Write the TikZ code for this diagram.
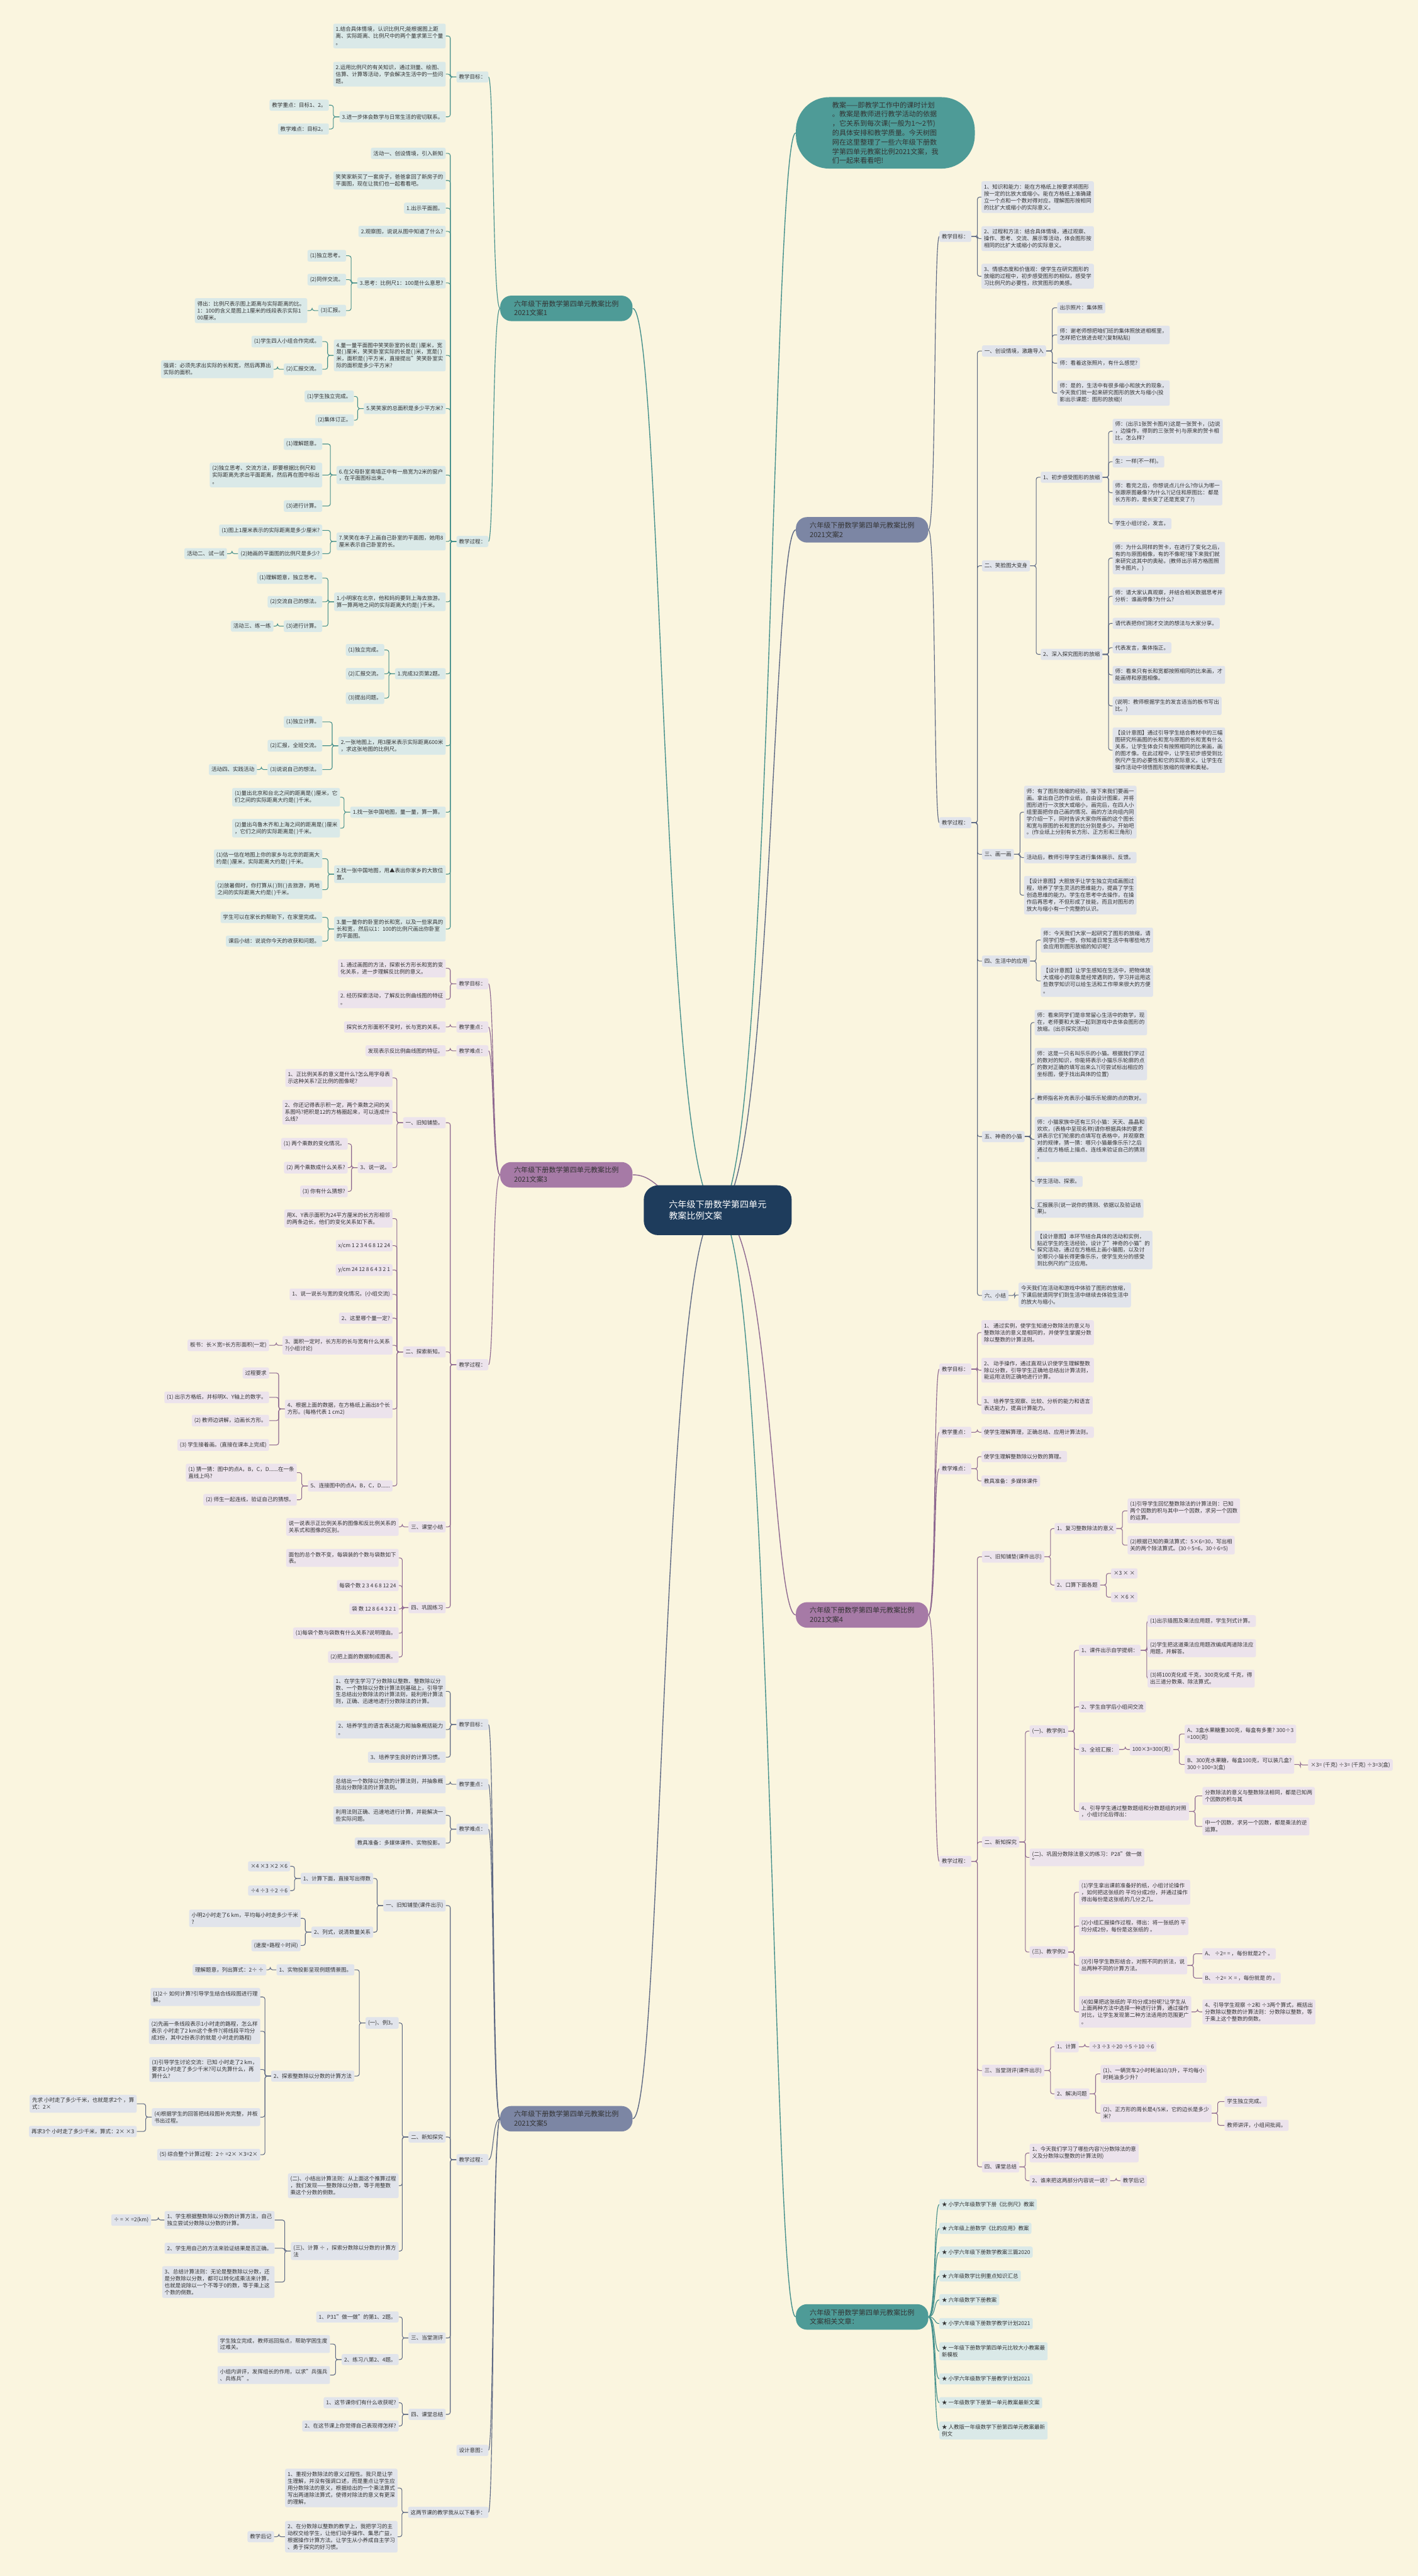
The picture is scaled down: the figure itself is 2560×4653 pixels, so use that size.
\documentclass[tikz,border=0pt]{standalone}
\usepackage{fontspec}
\setmainfont{Noto Sans CJK SC}
\definecolor{bgc}{HTML}{FAF5DF}
\definecolor{txt}{HTML}{333333}
\definecolor{tealM}{HTML}{4E9B97}
\definecolor{tealL}{HTML}{DAE9E8}
\definecolor{tealD}{HTML}{45908C}
\definecolor{purM}{HTML}{A67AA6}
\definecolor{purL}{HTML}{ECE3EC}
\definecolor{purD}{HTML}{8E6890}
\definecolor{bluM}{HTML}{7C86A4}
\definecolor{bluL}{HTML}{E1E4EB}
\definecolor{bluD}{HTML}{5E6984}
\definecolor{navy}{HTML}{1E3C5C}
\pgfdeclarelayer{bg}
\pgfsetlayers{bg,main}
\tikzset{
 base/.style={rounded corners=3bp, inner xsep=4.5bp, inner ysep=5.5bp, align=left, font=\fontsize{9.7bp}{12.4bp}\selectfont, text=txt},
 tL/.style={base, fill=tealL, anchor=east}, tR/.style={base, fill=tealL, anchor=west},
 pL/.style={base, fill=purL, anchor=east}, pR/.style={base, fill=purL, anchor=west},
 bL/.style={base, fill=bluL, anchor=east}, bR/.style={base, fill=bluL, anchor=west},
 mainS/.style={rounded corners=20bp, minimum width=239bp, minimum height=46bp, align=left, font=\fontsize{12.6bp}{16.6bp}\selectfont, text=txt, inner sep=0pt, anchor=west},
 conn/.style={draw=tealD, line width=1.2bp, rounded corners=4bp},
 mconn/.style={draw=tealD, line width=1.3bp},
 rconn/.style={line width=1.6bp}
}
\newcommand\cnL[2]{\draw[conn] (#1.west) -- ++(-11,0) |- (#2.east);}
\newcommand\cnR[2]{\draw[conn] (#1.east) -- ++(11,0) |- (#2.west);}
\newcommand\csL[2]{\foreach \cc in {#2}{\cnL{#1}{\cc}}}
\newcommand\csR[2]{\foreach \cc in {#2}{\cnR{#1}{\cc}}}
\newcommand\mcL[2]{\draw[mconn] (#1.west) .. controls +(-14,0) and +(10,0) .. (#2.east);}
\newcommand\mcR[2]{\draw[mconn] (#1.east) .. controls +(14,0) and +(-10,0) .. (#2.west);}
\begin{document}
\begin{tikzpicture}[x=1bp,y=-1bp]
\useasboundingbox (0,0) rectangle (2560,4653);
\begin{pgfonlayer}{bg}
\fill[bgc] (0,0) rectangle (2560,4653);
\end{pgfonlayer}

% ---------------- root
\node[rounded corners=26bp, fill=navy, text=white, minimum width=267bp, minimum height=90bp, align=left, font=\fontsize{16bp}{21bp}\selectfont] (root) at (1296,2186) {六年级下册数学第四单元\\教案比例文案};

% ---------------- main nodes
\node[mainS, fill=tealM] (m1) at (903,557) {六年级下册数学第四单元教案比例\\2021文案1};
\node[mainS, fill=purM] (m3) at (903,2122) {六年级下册数学第四单元教案比例\\2021文案3};
\node[mainS, fill=bluM] (m5) at (903,3827) {六年级下册数学第四单元教案比例\\2021文案5};
\node[mainS, fill=bluM] (m2) at (1437,957) {六年级下册数学第四单元教案比例\\2021文案2};
\node[mainS, fill=purM] (m4) at (1437,2917) {六年级下册数学第四单元教案比例\\2021文案4};
\node[mainS, fill=tealM] (m6) at (1437,4185) {六年级下册数学第四单元教案比例\\文案相关文章：};
\node[rounded corners=60bp, fill=tealM, minimum width=323bp, minimum height=129bp, align=left, font=\fontsize{12.6bp}{16.8bp}\selectfont, text=txt, anchor=west] (intro) at (1437,240) {教案——即教学工作中的课时计划\\。教案是教师进行教学活动的依据\\，它关系到每次课(一般为1～2节)\\的具体安排和教学质量。今天树图\\网在这里整理了一些六年级下册数\\学第四单元教案比例2021文案，我\\们一起来看看吧!};

% ================= 文案1 (teal, left)
\node[tL] (k1a) at (882,139) {教学目标：};
\node[tL] (k1b) at (882,978) {教学过程：};
\node[tL] (g1) at (805,65) {1.结合具体情境，认识比例尺;能根据图上距\\离、实际距离、比例尺中的两个量求第三个量\\。};
\node[tL] (g2) at (805,134) {2.运用比例尺的有关知识，通过测量、绘图、\\估算、计算等活动，学会解决生活中的一些问\\题。};
\node[tL] (g3) at (805,211) {3.进一步体会数学与日常生活的密切联系。};
\node[tL] (g3a) at (594,190) {教学重点：目标1、2。};
\node[tL] (g3b) at (594,233) {教学难点：目标2。};
\node[tL] (p1) at (805,277) {活动一、创设情境，引入新知};
\node[tL] (p2) at (805,326) {笑笑家新买了一套房子，爸爸拿回了新房子的\\平面图，现在让我们也一起看看吧。};
\node[tL] (p3) at (805,376) {1.出示平面图。};
\node[tL] (p4) at (805,418) {2.观察图，说说从图中知道了什么?};
\node[tL] (p5) at (805,511) {3.思考：比例尺1：100是什么意思?};
\node[tL] (p5a) at (625,462) {(1)独立思考。};
\node[tL] (p5b) at (625,505) {(2)同伴交流。};
\node[tL] (p5c) at (625,561) {(3)汇报。};
\node[tL] (p5c1) at (555,561) {得出：比例尺表示图上距离与实际距离的比。\\1：100的含义是图上1厘米的线段表示实际1\\00厘米。};
\node[tL] (p6) at (805,642) {4.量一量平面图中笑笑卧室的长是( )厘米，宽\\是( )厘米，笑笑卧室实际的长是( )米，宽是( )\\米，面积是( )平方米，直接提出"笑笑卧室实\\际的面积是多少平方米?};
\node[tL] (p6a) at (582,617) {(1)学生四人小组合作完成。};
\node[tL] (p6b) at (582,667) {(2)汇报交流。};
\node[tL] (p6b1) at (494,667) {强调：必须先求出实际的长和宽，然后再算出\\实际的面积。};
\node[tL] (p7) at (805,738) {5.笑笑家的总面积是多少平方米?};
\node[tL] (p7a) at (639,716) {(1)学生独立完成。};
\node[tL] (p7b) at (639,759) {(2)集体订正。};
\node[tL] (p8) at (805,858) {6.在父母卧室南墙正中有一扇宽为2米的窗户\\，在平面图标出来。};
\node[tL] (p8a) at (582,802) {(1)理解题意。};
\node[tL] (p8b) at (582,858) {(2)独立思考、交流方法，即要根据比例尺和\\实际距离先求出平面距离，然后再在图中标出\\。};
\node[tL] (p8c) at (582,914) {(3)进行计算。};
\node[tL] (p9) at (805,978) {7.笑笑在本子上画自己卧室的平面图，她用8\\厘米表示自己卧室的长。};
\node[tL] (p9a) at (582,958) {(1)图上1厘米表示的实际距离是多少厘米?};
\node[tL] (p9b) at (582,1000) {(2)她画的平面图的比例尺是多少?};
\node[tL] (p9b1) at (410,1000) {活动二、试一试};
\node[tL] (p10) at (805,1087) {1.小明家在北京，他和妈妈要到上海去旅游。\\算一算两地之间的实际距离大约是( )千米。};
\node[tL] (p10a) at (582,1044) {(1)理解题意，独立思考。};
\node[tL] (p10b) at (582,1087) {(2)交流自己的想法。};
\node[tL] (p10c) at (582,1131) {(3)进行计算。};
\node[tL] (p10c1) at (494,1131) {活动三、练一练};
\node[tL] (p11) at (805,1217) {1.完成32页第2题。};
\node[tL] (p11a) at (694,1174) {(1)独立完成。};
\node[tL] (p11b) at (694,1217) {(2)汇报交流。};
\node[tL] (p11c) at (694,1261) {(3)提出问题。};
\node[tL] (p12) at (805,1347) {2.一张地图上，用3厘米表示实际距离600米\\，求这张地图的比例尺。};
\node[tL] (p12a) at (582,1304) {(1)独立计算。};
\node[tL] (p12b) at (582,1347) {(2)汇报，全班交流。};
\node[tL] (p12c) at (582,1390) {(3)说说自己的想法。};
\node[tL] (p12c1) at (464,1390) {活动四、实践活动};
\node[tL] (p13) at (805,1467) {1.找一张中国地图，量一量，算一算。};
\node[tL] (p13a) at (614,1440) {(1)量出北京和台北之间的距离是( )厘米，它\\们之间的实际距离大约是( )千米。};
\node[tL] (p13b) at (614,1496) {(2)量出乌鲁木齐和上海之间的距离是( )厘米\\，它们之间的实际距离是( )千米。};
\node[tL] (p14) at (805,1579) {2.找一张中国地图，用▲表出你家乡的大致位\\置。};
\node[tL] (p14a) at (582,1551) {(1)估一估在地图上你的家乡与北京的距离大\\约是( )厘米，实际距离大约是( )千米。};
\node[tL] (p14b) at (582,1607) {(2)放暑假时，你打算从( )到( )去旅游，两地\\之间的实际距离大约是( )千米。};
\node[tL] (p15) at (805,1678) {3.量一量你的卧室的长和宽，以及一些家具的\\长和宽，然后以1：100的比例尺画出你卧室\\的平面图。};
\node[tL] (p15a) at (582,1657) {学生可以在家长的帮助下，在家里完成。};
\node[tL] (p15b) at (582,1700) {课后小结：说说你今天的收获和问题。};

% ================= 文案3 (purple, left)
\node[pL] (k3a) at (882,1777) {教学目标：};
\node[pL] (k3b) at (882,1855) {教学重点：};
\node[pL] (k3c) at (882,1898) {教学难点：};
\node[pL] (k3d) at (882,2465) {教学过程：};
\node[pL] (q1) at (805,1749) {1. 通过画图的方法，探索长方形长和宽的变\\化关系，进一步理解反比例的意义。};
\node[pL] (q2) at (805,1805) {2. 经历探索活动，了解反比例曲线图的特征\\。};
\node[pL] (q3) at (805,1855) {探究长方形面积不变时，长与宽的关系。};
\node[pL] (q4) at (805,1898) {发现表示反比例曲线图的特征。};
\node[pL] (r1) at (805,2028) {一、旧知铺垫。};
\node[pL] (r1a) at (709,1947) {1、正比例关系的意义是什么?怎么用字母表\\示这种关系?正比例的图像呢?};
\node[pL] (r1b) at (709,2009) {2、你还记得表示积一定，两个乘数之间的关\\系图吗?把积是12的方格圈起来，可以连成什\\么线?};
\node[pL] (r1c) at (709,2109) {3、说一说。};
\node[pL] (r1c1) at (628,2066) {(1) 两个乘数的变化情况。};
\node[pL] (r1c2) at (628,2109) {(2) 两个乘数成什么关系?};
\node[pL] (r1c3) at (628,2152) {(3) 你有什么猜想?};
\node[pL] (r2) at (805,2442) {二、探索新知。};
\node[pL] (r2a) at (709,2201) {用X、Y表示面积为24平方厘米的长方形相邻\\的两条边长，他们的变化关系如下表。};
\node[pL] (r2b) at (709,2250) {x/cm 1 2 3 4 6 8 12 24};
\node[pL] (r2c) at (709,2294) {y/cm 24 12 8 6 4 3 2 1};
\node[pL] (r2d) at (709,2338) {1、说一说长与宽的变化情况。(小组交流)};
\node[pL] (r2e) at (709,2381) {2、这里哪个量一定?};
\node[pL] (r2f) at (709,2430) {3、面积一定时，长方形的长与宽有什么关系\\?(小组讨论)};
\node[pL] (r2f1) at (486,2430) {板书：长×宽=长方形面积(一定)};
\node[pL] (r2g) at (709,2545) {4、根据上面的数据，在方格纸上画出8个长\\方形。(每格代表 1 cm2)};
\node[pL] (r2g1) at (486,2480) {过程要求};
\node[pL] (r2g2) at (486,2524) {(1) 出示方格纸，并标明X、Y轴上的数字。};
\node[pL] (r2g3) at (486,2566) {(2) 教师边讲解，边画长方形。};
\node[pL] (r2g4) at (486,2610) {(3) 学生接着画。(直接在课本上完成)};
\node[pL] (r2h) at (709,2684) {5、连接图中的点A，B，C，D......};
\node[pL] (r2h1) at (536,2660) {(1) 猜一猜：图中的点A，B，C，D......在一条\\直线上吗?};
\node[pL] (r2h2) at (536,2709) {(2) 师生一起连线，验证自己的猜想。};
\node[pL] (r3) at (805,2758) {三、课堂小结};
\node[pL] (r3a) at (720,2758) {说一说表示正比例关系的图像和反比例关系的\\关系式和图像的区别。};
\node[pL] (r4) at (805,2904) {四、巩固练习};
\node[pL] (r4a) at (720,2814) {面包的总个数不变，每袋装的个数与袋数如下\\表。};
\node[pL] (r4b) at (720,2864) {每袋个数 2 3 4 6 8 12 24};
\node[pL] (r4c) at (720,2906) {袋 数 12 8 6 4 3 2 1};
\node[pL] (r4d) at (720,2950) {(1)每袋个数与袋数有什么关系?说明理由。};
\node[pL] (r4e) at (720,2993) {(2)把上面的数据制成图表。};

% ================= 文案5 (blue, left)
\node[bL] (k5a) at (882,3115) {教学目标：};
\node[bL] (k5b) at (882,3223) {教学重点：};
\node[bL] (k5c) at (882,3304) {教学难点：};
\node[bL] (k5d) at (882,3901) {教学过程：};
\node[bL] (k5e) at (882,4426) {设计意图：};
\node[bL] (k5f) at (882,4538) {这两节课的教学我从以下着手：};
\node[bL] (s1) at (805,3055) {1、在学生学习了分数除以整数、整数除以分\\数、一个数除以分数计算法则基础上，引导学\\生总结出分数除法的计算法则，能利用计算法\\则，正确、迅速地进行分数除法的计算。};
\node[bL] (s2) at (805,3124) {2、培养学生的语言表达能力和抽象概括能力\\。};
\node[bL] (s3) at (805,3174) {3、培养学生良好的计算习惯。};
\node[bL] (s4) at (805,3223) {总结出一个数除以分数的计算法则，并抽象概\\括出分数除法的计算法则。};
\node[bL] (s5) at (805,3279) {利用法则正确、迅速地进行计算，并能解决一\\些实际问题。};
\node[bL] (s6) at (805,3329) {教具准备：多媒体课件、实物投影。};
\node[bL] (t1) at (805,3442) {一、旧知铺垫(课件出示)};
\node[bL] (t1a) at (674,3393) {1、计算下面，直接写出得数};
\node[bL] (t1a1) at (524,3371) {×4 ×3 ×2 ×6};
\node[bL] (t1a2) at (524,3415) {÷4 ÷3 ÷2 ÷6};
\node[bL] (t1b) at (674,3490) {2、列式，说清数量关系};
\node[bL] (t1b1) at (543,3465) {小明2小时走了6 km，平均每小时走多少千米\\?};
\node[bL] (t1b2) at (543,3514) {(速度=路程÷时间)};
\node[bL] (t2) at (805,3860) {二、新知探究};
\node[bL] (t2a) at (720,3654) {(一)、例3。};
\node[bL] (t2a1) at (640,3558) {1、实物投影呈现例题情景图。};
\node[bL] (t2a1a) at (481,3558) {理解题意，列出算式：2÷ ÷};
\node[bL] (t2a2) at (640,3750) {2、探索整数除以分数的计算方法};
\node[bL] (u1) at (470,3607) {(1)2÷ 如何计算?引导学生结合线段图进行理\\解。};
\node[bL] (u2) at (470,3669) {(2)先画一条线段表示1小时走的路程，怎么样\\表示 小时走了2 km这个条件?(将线段平均分\\成3份，其中2份表示的就是 小时走的路程)};
\node[bL] (u3) at (470,3738) {(3)引导学生讨论交流：已知 小时走了2 km，\\要求1小时走了多少千米?可以先算什么，再\\算什么?};
\node[bL] (u4) at (470,3824) {(4)根据学生的回答把线段图补充完整，并板\\书出过程。};
\node[bL] (u4a) at (247,3800) {先求 小时走了多少千米，也就是求2个 ，算\\式：2×};
\node[bL] (u4b) at (247,3850) {再求3个 小时走了多少千米，算式：2× ×3};
\node[bL] (u5) at (470,3892) {(5) 综合整个计算过程：2÷ =2× ×3=2×};
\node[bL] (t2b) at (720,3948) {(二)、小结出计算法则：从上面这个推算过程\\，我们发现——整数除以分数，等于用整数\\乘这个分数的倒数。};
\node[bL] (t2c) at (720,4066) {(三)、计算 ÷ ，探索分数除以分数的计算方\\法};
\node[bL] (v1) at (496,4010) {1、学生根据整数除以分数的计算方法，自己\\独立尝试分数除以分数的计算。};
\node[bL] (v1a) at (273,4010) {÷ = × =2(km)};
\node[bL] (v2) at (496,4061) {2、学生用自己的方法来验证结果是否正确。};
\node[bL] (v3) at (496,4122) {3、总结计算法则：无论是整数除以分数，还\\是分数除以分数，都可以转化成乘法来计算，\\也就是说除以一个不等于0的数，等于乘上这\\个数的倒数。};
\node[bL] (t3) at (805,4223) {三、当堂测评};
\node[bL] (t3a) at (720,4185) {1、P31"做一做"的第1、2题。};
\node[bL] (t3b) at (720,4262) {2、练习八第2、4题。};
\node[bL] (t3b1) at (596,4234) {学生独立完成，教师巡回指点，帮助学困生度\\过难关。};
\node[bL] (t3b2) at (596,4290) {小组内讲评，发挥组长的作用，以求"兵强兵\\、兵练兵"。};
\node[bL] (t4) at (805,4361) {四、课堂总结};
\node[bL] (t4a) at (720,4340) {1、这节课你们有什么收获呢?};
\node[bL] (t4b) at (720,4382) {2、在这节课上你觉得自己表现得怎样?};
\node[bL] (w1) at (718,4494) {1、重视分数除法的意义过程性。我只是让学\\生理解，并没有强调口述，而是重点让学生应\\用分数除法的意义，根据给出的一个乘法算式\\写出两道除法算式，使得对除法的意义有更深\\的理解。};
\node[bL] (w2) at (718,4582) {2、在分数除以整数的教学上，我把学习的主\\动权交给学生，让他们动手操作、集思广益，\\根据操作计算方法。让学生从小养成自主学习\\、勇于探究的好习惯。};
\node[bL] (w2a) at (495,4582) {教学后记};

% ================= 文案2 (blue, right)
\node[bR] (k2a) at (1696,427) {教学目标：};
\node[bR] (k2b) at (1696,1486) {教学过程：};
\node[bR] (x1) at (1772,356) {1、知识和能力：能在方格纸上按要求将图形\\按一定的比放大或缩小。能在方格纸上准确建\\立一个点和一个数对得对应。理解图形按相同\\的比扩大或缩小的实际意义。};
\node[bR] (x2) at (1772,431) {2、过程和方法：结合具体情境，通过观察、\\操作、思考、交流、展示等活动，体会图形按\\相同的比扩大或缩小的实际意义。};
\node[bR] (x3) at (1772,499) {3、情感态度和价值观：使学生在研究图形的\\放缩的过程中，初步感受图形的相似，感受学\\习比例尺的必要性，欣赏图形的美感。};
\node[bR] (y1) at (1773,634) {一、创设情境，激趣导入};
\node[bR] (y1a) at (1909,556) {出示照片：集体照};
\node[bR] (y1b) at (1909,605) {师：谢老师想把咱们班的集体照放进相框里，\\怎样把它放进去呢?(复制粘贴)};
\node[bR] (y1c) at (1909,656) {师：看着这张照片，有什么感觉?};
\node[bR] (y1d) at (1909,710) {师：是的，生活中有很多缩小和放大的现象，\\今天我们就一起来研究图形的放大与缩小(投\\影出示课题：图形的放缩)!};
\node[bR] (y2) at (1773,1022) {二、笑脸图大变身};
\node[bR] (y2a) at (1879,862) {1、初步感受图形的放缩};
\node[bR] (z1) at (2009,779) {师：(出示1张贺卡图片)这是一张贺卡，(边说\\，边操作，得到的三张贺卡)与原来的贺卡相\\比，怎么样?};
\node[bR] (z2) at (2009,834) {生：一样(不一样)。};
\node[bR] (z3) at (2009,890) {师：看完之后，你想说点儿什么?你认为哪一\\张跟原图最像?为什么?(记住和原图比：都是\\长方形的，是长变了还是宽变了?)};
\node[bR] (z4) at (2009,946) {学生小组讨论，发言。};
\node[bR] (y2b) at (1879,1182) {2、深入探究图形的放缩};
\node[bR] (z5) at (2009,1008) {师：为什么同样的贺卡，在进行了变化之后，\\有的与原图相像，有的不像呢?接下来我们就\\来研究这其中的奥秘。(教师出示将方格图照\\贺卡图片。)};
\node[bR] (z6) at (2009,1077) {师：请大家认真观察，并结合相关数据思考并\\分析：谁画得像?为什么?};
\node[bR] (z7) at (2009,1126) {请代表把你们刚才交流的想法与大家分享。};
\node[bR] (z8) at (2009,1170) {代表发言，集体指正。};
\node[bR] (z9) at (2009,1219) {师：看来只有长和宽都按照相同的比来画，才\\能画得和原图相像。};
\node[bR] (z10) at (2009,1275) {(说明：教师根据学生的发言适当的板书写出\\比。)};
\node[bR] (z11) at (2009,1355) {【设计意图】通过引导学生结合教材中的三幅\\图研究所画图的长和宽与原图的长和宽有什么\\关系，让学生体会只有按照相同的比来画，画\\的图才像。在此过程中，让学生初步感受到比\\例尺产生的必要性和它的实际意义。让学生在\\操作活动中领悟图形放缩的规律和奥秘。};
\node[bR] (y3) at (1773,1543) {三、画一画};
\node[bR] (y3a) at (1849,1467) {师：有了图形放缩的经验，接下来我们要画一\\画。拿出自己的作业纸，自由设计图案，并将\\图形进行一次放大或缩小，画完后，在四人小\\组里面把你自己画的情况、画的方法向组内同\\学介绍一下，同时告诉大家你所画的这个图长\\和宽与原图的长和宽的比分别是多少。开始吧\\。(作业纸上分别有长方形、正方形和三角形)};
\node[bR] (y3b) at (1849,1549) {活动后，教师引导学生进行集体展示、反馈。};
\node[bR] (y3c) at (1849,1617) {【设计意图】大胆放手让学生独立完成画图过\\程，培养了学生灵活的思维能力，提高了学生\\创造思维的能力。学生在思考中去操作，在操\\作后再思考，不但形成了技能，而且对图形的\\放大与缩小有一个完整的认识。};
\node[bR] (y4) at (1773,1736) {四、生活中的应用};
\node[bR] (y4a) at (1879,1698) {师：今天我们大家一起研究了图形的放缩，请\\同学们想一想，你知道日常生活中有哪些地方\\会应用到图形放缩的知识呢?};
\node[bR] (y4b) at (1879,1772) {【设计意图】让学生感知在生活中，把物体放\\大或缩小的现象是经常遇到的，学习并运用这\\些数学知识可以给生活和工作带来很大的方便\\。};
\node[bR] (y5) at (1773,2053) {五、神奇的小猫};
\node[bR] (y5a) at (1868,1847) {师：看来同学们是非常留心生活中的数学，现\\在，老师要和大家一起到游戏中去体会图形的\\放缩。(出示探究活动)};
\node[bR] (y5b) at (1868,1922) {师：这是一只名叫乐乐的小猫。根据我们学过\\的数对的知识，你能将表示小猫乐乐轮廓的点\\的数对正确的填写出来么?(可尝试标出相应的\\坐标图，便于找出具体的位置)};
\node[bR] (y5c) at (1868,1984) {教师指名补充表示小猫乐乐轮廓的点的数对。};
\node[bR] (y5d) at (1868,2058) {师：小猫家族中还有三只小猫：天天、晶晶和\\欢欢，(表格中呈现名称)请你根据具体的要求\\讲表示它们轮廓的点填写在表格中，并观察数\\对的规律，猜一猜：哪只小猫最像乐乐?之后\\通过在方格纸上描点、连线来验证自己的猜测\\。};
\node[bR] (y5e) at (1868,2134) {学生活动、探索。};
\node[bR] (y5f) at (1868,2183) {汇报展示(说一说你的猜测、依据以及验证结\\果)。};
\node[bR] (y5g) at (1868,2258) {【设计意图】本环节结合具体的活动和实例，\\贴近学生的生活经验，设计了"神奇的小猫"的\\探究活动，通过在方格纸上画小猫图，以及讨\\论哪只小猫长得更像乐乐，使学生充分的感受\\到比例尺的广泛应用。};
\node[bR] (y6) at (1773,2340) {六、小结};
\node[bR] (y6a) at (1839,2339) {今天我们在活动和游戏中体验了图形的放缩，\\下课后就请同学们到生活中继续去体验生活中\\的放大与缩小。};

% ================= 文案4 (purple, right)
\node[pR] (k4a) at (1696,2473) {教学目标：};
\node[pR] (k4b) at (1696,2587) {教学重点：};
\node[pR] (k4c) at (1696,2653) {教学难点：};
\node[pR] (k4d) at (1696,3362) {教学过程：};
\node[pR] (aa1) at (1772,2407) {1、 通过实例，使学生知道分数除法的意义与\\整数除法的意义是相同的，并使学生掌握分数\\除以整数的计算法则。};
\node[pR] (aa2) at (1772,2475) {2、 动手操作，通过直观认识使学生理解整数\\除以分数，引导学生正确地总结出计算法则，\\能运用法则正确地进行计算。};
\node[pR] (aa3) at (1772,2538) {3、 培养学生观察、比较、分析的能力和语言\\表达能力，提高计算能力。};
\node[pR] (aa4) at (1772,2587) {使学生理解算理，正确总结、应用计算法则。};
\node[pR] (aa5) at (1772,2631) {使学生理解整数除以分数的算理。};
\node[pR] (aa6) at (1772,2675) {教具准备：多媒体课件};
\node[pR] (bb1) at (1773,2812) {一、旧知铺垫(课件出示)};
\node[pR] (bb1a) at (1904,2761) {1、复习整数除法的意义};
\node[pR] (bb1a1) at (2036,2729) {(1)引导学生回忆整数除法的计算法则：已知\\两个因数的积与其中一个因数，求另一个因数\\的运算。};
\node[pR] (bb1a2) at (2036,2791) {(2)根据已知的乘法算式：5×6=30，写出相\\关的两个除法算式。(30÷5=6，30÷6=5)};
\node[pR] (bb1b) at (1904,2863) {2、口算下面各题};
\node[pR] (bb1b1) at (2006,2842) {×3 × ×};
\node[pR] (bb1b2) at (2006,2885) {× ×6 ×};
\node[pR] (bb2) at (1773,3327) {二、新知探究};
\node[pR] (cc1) at (1859,3127) {(一)、教学例1};
\node[pR] (cc1a) at (1948,2981) {1、课件出示自学提纲：};
\node[pR] (cc1a1) at (2072,2928) {(1)出示插图及乘法应用题，学生列式计算。};
\node[pR] (cc1a2) at (2072,2977) {(2)学生把这道乘法应用题改编成两道除法应\\用题，并解答。};
\node[pR] (cc1a3) at (2072,3032) {(3)将100克化成 千克，300克化成 千克，得\\出三道分数乘、除法算式。};
\node[pR] (cc1b) at (1948,3083) {2、学生自学后小组间交流};
\node[pR] (cc1c) at (1948,3160) {3、全班汇报：};
\node[pR] (cc1c1) at (2040,3160) {100×3=300(克)};
\node[pR] (cc1c1a) at (2139,3132) {A、3盒水果糖重300克，每盒有多重? 300÷3\\=100(克)};
\node[pR] (cc1c1b) at (2139,3187) {B、300克水果糖，每盒100克，可以装几盒?\\300÷100=3(盒)};
\node[pR] (cc1c1b1) at (2362,3188) {×3= (千克) ÷3= (千克) ÷3=3(盒)};
\node[pR] (cc1d) at (1948,3272) {4、引导学生通过整数题组和分数题组的对照\\，小组讨论后得出：};
\node[pR] (cc1d1) at (2171,3244) {分数除法的意义与整数除法相同，都是已知两\\个因数的积与其};
\node[pR] (cc1d2) at (2171,3299) {中一个因数，求另一个因数，都是乘法的逆\\运算。};
\node[pR] (cc2) at (1859,3355) {(二)、巩固分数除法意义的练习：P28"做一做\\"};
\node[pR] (cc3) at (1859,3526) {(三)、教学例2};
\node[pR] (cc3a) at (1948,3418) {(1)学生拿出课前准备好的纸，小组讨论操作\\，如何把这张纸的 平均分成2份，并通过操作\\得出每份是这张纸的几分之几。};
\node[pR] (cc3b) at (1948,3479) {(2)小组汇报操作过程，得出：将一张纸的 平\\均分成2份，每份是这张纸的 。};
\node[pR] (cc3c) at (1948,3550) {(3)引导学生数形结合，对照不同的折法，说\\出两种不同的计算方法。};
\node[pR] (cc3c1) at (2171,3529) {A、 ÷2= = ，每份就是2个 。};
\node[pR] (cc3c2) at (2171,3573) {B、 ÷2= × = ，每份就是 的 。};
\node[pR] (cc3d) at (1948,3634) {(4)如果把这张纸的 平均分成3份呢?让学生从\\上面两种方法中选择一种进行计算，通过操作\\对比，让学生发现第二种方法适用的范围更广\\。};
\node[pR] (cc3d1) at (2171,3634) {4、引导学生观察 ÷2和 ÷3两个算式，概括出\\分数除以整数的计算法则：分数除以整数，等\\于乘上这个整数的倒数。};
\node[pR] (bb3) at (1773,3740) {三、当堂测评(课件出示)};
\node[pR] (dd1) at (1904,3697) {1、计算};
\node[pR] (dd1a) at (1967,3697) {÷3 ÷3 ÷20 ÷5 ÷10 ÷6};
\node[pR] (dd2) at (1904,3782) {2、解决问题};
\node[pR] (dd2a) at (1987,3746) {(1)、一辆货车2小时耗油10/3升，平均每小\\时耗油多少升?};
\node[pR] (dd2b) at (1987,3817) {(2)、正方形的周长是4/5米，它的边长是多少\\米?};
\node[pR] (dd2b1) at (2211,3796) {学生独立完成。};
\node[pR] (dd2b2) at (2211,3839) {教师讲评，小组间批阅。};
\node[pR] (bb4) at (1773,3914) {四、课堂总结};
\node[pR] (ee1) at (1859,3889) {1、今天我们学习了哪些内容?(分数除法的意\\义及分数除以整数的计算法则)};
\node[pR] (ee2) at (1859,3939) {2、谁来把这两部分内容说一说?};
\node[pR] (ee2a) at (2023,3939) {教学后记};

% ================= related (teal, right)
\node[tR] (f1) at (1696,3982) {★ 小学六年级数学下册《比例尺》教案};
\node[tR] (f2) at (1696,4025) {★ 六年级上册数学《比的应用》教案};
\node[tR] (f3) at (1696,4068) {★ 小学六年级下册数学教案三篇2020};
\node[tR] (f4) at (1696,4111) {★ 六年级数学比例重点知识汇总};
\node[tR] (f5) at (1696,4154) {★ 六年级数学下册教案};
\node[tR] (f6) at (1696,4197) {★ 小学六年级下册数学教学计划2021};
\node[tR] (f7) at (1696,4247) {★ 一年级下册数学第四单元比较大小教案最\\新模板};
\node[tR] (f8) at (1696,4297) {★ 小学六年级数学下册教学计划2021};
\node[tR] (f9) at (1696,4340) {★ 一年级数学下册第一单元教案最新文案};
\node[tR] (f10) at (1696,4390) {★ 人教版一年级数学下册第四单元教案最新\\例文};

% ================= connectors
\begin{pgfonlayer}{bg}
% root to main
\draw[rconn, tealD] (root.center) .. controls (1394,2186) and (1394,240) .. (intro.west);
\draw[rconn, bluD] (root.center) .. controls (1394,2186) and (1394,957) .. (m2.west);
\draw[rconn, purD] (root.center) .. controls (1394,2186) and (1394,2917) .. (m4.west);
\draw[rconn, tealD] (root.center) .. controls (1394,2186) and (1394,4185) .. (m6.west);
\draw[rconn, tealD] (root.center) .. controls (1196,2186) and (1196,557) .. (m1.east);
\draw[rconn, purD] (root.center) .. controls (1196,2186) and (1196,2122) .. (m3.east);
\draw[rconn, bluD] (root.center) .. controls (1196,2186) and (1196,3827) .. (m5.east);

\begin{scope}[conn/.style={draw=tealD, line width=1.2bp, rounded corners=4bp}, mconn/.style={draw=tealD, line width=1.3bp}]
\mcL{m1}{k1a}\mcL{m1}{k1b}
\csL{k1a}{g1,g2,g3}\csL{g3}{g3a,g3b}
\csL{k1b}{p1,p2,p3,p4,p5,p6,p7,p8,p9,p10,p11,p12,p13,p14,p15}
\csL{p5}{p5a,p5b,p5c}\cnL{p5c}{p5c1}
\csL{p6}{p6a,p6b}\cnL{p6b}{p6b1}
\csL{p7}{p7a,p7b}
\csL{p8}{p8a,p8b,p8c}
\csL{p9}{p9a,p9b}\cnL{p9b}{p9b1}
\csL{p10}{p10a,p10b,p10c}\cnL{p10c}{p10c1}
\csL{p11}{p11a,p11b,p11c}
\csL{p12}{p12a,p12b,p12c}\cnL{p12c}{p12c1}
\csL{p13}{p13a,p13b}
\csL{p14}{p14a,p14b}
\csL{p15}{p15a,p15b}
\foreach \cc in {f1,f2,f3,f4,f5,f6,f7,f8,f9,f10}{\mcR{m6}{\cc}}
\end{scope}

\begin{scope}[conn/.style={draw=purD, line width=1.2bp, rounded corners=4bp}, mconn/.style={draw=purD, line width=1.3bp}]
\mcL{m3}{k3a}\mcL{m3}{k3b}\mcL{m3}{k3c}\mcL{m3}{k3d}
\csL{k3a}{q1,q2}\cnL{k3b}{q3}\cnL{k3c}{q4}
\csL{k3d}{r1,r2,r3,r4}
\csL{r1}{r1a,r1b,r1c}\csL{r1c}{r1c1,r1c2,r1c3}
\csL{r2}{r2a,r2b,r2c,r2d,r2e,r2f,r2g,r2h}
\cnL{r2f}{r2f1}\csL{r2g}{r2g1,r2g2,r2g3,r2g4}\csL{r2h}{r2h1,r2h2}
\cnL{r3}{r3a}
\csL{r4}{r4a,r4b,r4c,r4d,r4e}
% 文案4
\mcR{m4}{k4a}\mcR{m4}{k4b}\mcR{m4}{k4c}\mcR{m4}{k4d}
\csR{k4a}{aa1,aa2,aa3}\cnR{k4b}{aa4}\csR{k4c}{aa5,aa6}
\csR{k4d}{bb1,bb2,bb3,bb4}
\csR{bb1}{bb1a,bb1b}\csR{bb1a}{bb1a1,bb1a2}\csR{bb1b}{bb1b1,bb1b2}
\csR{bb2}{cc1,cc2,cc3}
\csR{cc1}{cc1a,cc1b,cc1c,cc1d}
\csR{cc1a}{cc1a1,cc1a2,cc1a3}
\cnR{cc1c}{cc1c1}\csR{cc1c1}{cc1c1a,cc1c1b}\cnR{cc1c1b}{cc1c1b1}
\csR{cc1d}{cc1d1,cc1d2}
\csR{cc3}{cc3a,cc3b,cc3c,cc3d}\csR{cc3c}{cc3c1,cc3c2}\cnR{cc3d}{cc3d1}
\csR{bb3}{dd1,dd2}\cnR{dd1}{dd1a}\csR{dd2}{dd2a,dd2b}\csR{dd2b}{dd2b1,dd2b2}
\csR{bb4}{ee1,ee2}\cnR{ee2}{ee2a}
\end{scope}

\begin{scope}[conn/.style={draw=bluD, line width=1.2bp, rounded corners=4bp}, mconn/.style={draw=bluD, line width=1.3bp}]
\mcL{m5}{k5a}\mcL{m5}{k5b}\mcL{m5}{k5c}\mcL{m5}{k5d}\mcL{m5}{k5e}\mcL{m5}{k5f}
\csL{k5a}{s1,s2,s3}\cnL{k5b}{s4}\csL{k5c}{s5,s6}
\csL{k5d}{t1,t2,t3,t4}
\csL{t1}{t1a,t1b}\csL{t1a}{t1a1,t1a2}\csL{t1b}{t1b1,t1b2}
\csL{t2}{t2a,t2b,t2c}
\csL{t2a}{t2a1,t2a2}\cnL{t2a1}{t2a1a}
\csL{t2a2}{u1,u2,u3,u4,u5}\csL{u4}{u4a,u4b}
\csL{t2c}{v1,v2,v3}\cnL{v1}{v1a}
\csL{t3}{t3a,t3b}\csL{t3b}{t3b1,t3b2}
\csL{t4}{t4a,t4b}
\csL{k5f}{w1,w2}\cnL{w2}{w2a}
% 文案2
\mcR{m2}{k2a}\mcR{m2}{k2b}
\csR{k2a}{x1,x2,x3}
\csR{k2b}{y1,y2,y3,y4,y5,y6}
\csR{y1}{y1a,y1b,y1c,y1d}
\csR{y2}{y2a,y2b}\csR{y2a}{z1,z2,z3,z4}\csR{y2b}{z5,z6,z7,z8,z9,z10,z11}
\csR{y3}{y3a,y3b,y3c}
\csR{y4}{y4a,y4b}
\csR{y5}{y5a,y5b,y5c,y5d,y5e,y5f,y5g}
\cnR{y6}{y6a}
\end{scope}
\end{pgfonlayer}
\end{tikzpicture}
\end{document}
